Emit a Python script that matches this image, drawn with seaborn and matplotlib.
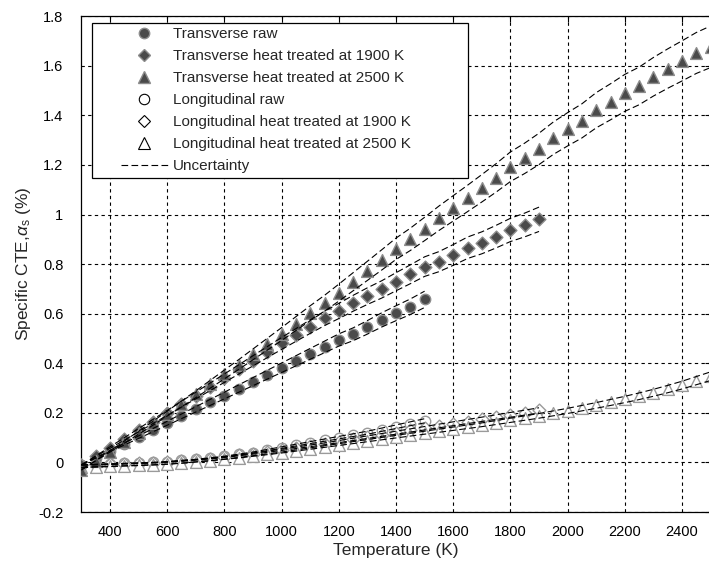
import matplotlib
matplotlib.use("Agg")
import matplotlib.pyplot as plt
import seaborn as sns
import numpy as np
import pandas as pd
from matplotlib.lines import Line2D
from matplotlib.legend_handler import HandlerLine2D

# ---------------- data ----------------
T_raw = list(range(300, 1501, 50))
T_1900 = list(range(300, 1901, 50))
T_2500 = list(range(300, 2501, 50))

trans_raw = [-0.01, 0.018, 0.046, 0.074, 0.102, 0.13, 0.158, 0.186, 0.214, 0.242,
             0.27, 0.298, 0.326, 0.354, 0.382, 0.41, 0.438, 0.466, 0.494, 0.517,
             0.545, 0.575, 0.602, 0.628, 0.658]

trans_1900 = [-0.01, 0.025, 0.06, 0.095, 0.13, 0.165, 0.20, 0.235, 0.27, 0.305,
              0.34, 0.375, 0.41, 0.445, 0.48, 0.514, 0.548, 0.581, 0.611, 0.642,
              0.671, 0.698, 0.729, 0.759, 0.79, 0.81, 0.837, 0.866, 0.886, 0.911,
              0.938, 0.958, 0.981]

trans_2500 = [-0.03, 0.007, 0.044, 0.082, 0.12, 0.158, 0.197, 0.236, 0.275, 0.315,
              0.355, 0.395, 0.436, 0.477, 0.518, 0.56, 0.602, 0.642, 0.685, 0.729,
              0.773, 0.817, 0.862, 0.90, 0.942, 0.985, 1.025, 1.065, 1.106, 1.148,
              1.193, 1.227, 1.265, 1.308, 1.344, 1.378, 1.421, 1.455, 1.491, 1.519,
              1.556, 1.589, 1.62, 1.652, 1.677]

long_raw = [-0.01, -0.008, -0.006, -0.004, -0.002, 0.0, 0.003, 0.008, 0.012, 0.018,
            0.024, 0.032, 0.04, 0.05, 0.06, 0.07, 0.08, 0.09, 0.10, 0.11,
            0.12, 0.132, 0.144, 0.156, 0.168]

long_1900 = [-0.01, -0.009, -0.008, -0.006, -0.004, -0.002, 0.001, 0.005, 0.01, 0.015,
             0.021, 0.028, 0.035, 0.043, 0.051, 0.059, 0.067, 0.075, 0.084, 0.093,
             0.102, 0.111, 0.12, 0.129, 0.138, 0.147, 0.156, 0.165, 0.174, 0.183,
             0.192, 0.201, 0.21]

long_2500 = [-0.02, -0.018, -0.016, -0.014, -0.012, -0.01, -0.007, -0.003, 0.002, 0.007,
             0.013, 0.019, 0.026, 0.033, 0.04, 0.048, 0.056, 0.064, 0.072, 0.08,
             0.088, 0.096, 0.104, 0.112, 0.12, 0.128, 0.136, 0.144, 0.152, 0.161,
             0.17, 0.179, 0.188, 0.198, 0.208, 0.219, 0.23, 0.242, 0.254, 0.267,
             0.281, 0.296, 0.312, 0.33, 0.348]

rel_uncertainty = 0.05   # relative half-width of uncertainty band

labels = ["Transverse raw", "Transverse heat treated at 1900 K",
          "Transverse heat treated at 2500 K", "Longitudinal raw",
          "Longitudinal heat treated at 1900 K", "Longitudinal heat treated at 2500 K",
          "Uncertainty"]

x_ticks = list(range(400, 2401, 200))
y_ticks = [-0.2, 0, 0.2, 0.4, 0.6, 0.8, 1, 1.2, 1.4, 1.6, 1.8]

# ---------------- styling ----------------
sns.set_style("white")
plt.rcParams['font.family'] = ['Liberation Sans', 'DejaVu Sans']
plt.rcParams['mathtext.fontset'] = 'custom'
plt.rcParams['mathtext.rm'] = 'Liberation Sans'
plt.rcParams['mathtext.it'] = 'Liberation Sans:italic'
plt.rcParams['axes.unicode_minus'] = False

fig = plt.figure(figsize=(7.09, 5.65), dpi=100)
ax = fig.add_axes([0.1148, 0.0938, 0.8875, 0.8774])

fill_dark = "#4a4a4a"
edge_dark = "#8c8c8c"
edge_light = "#9a9a9a"

series = [
    (T_raw, trans_raw, "o", fill_dark, edge_dark, 7.5),
    (T_1900, trans_1900, "D", fill_dark, edge_dark, 6.5),
    (T_2500, trans_2500, "^", fill_dark, edge_dark, 8.5),
    (T_raw, long_raw, "o", "white", edge_light, 7.5),
    (T_1900, long_1900, "D", "white", edge_light, 6.5),
    (T_2500, long_2500, "^", "white", edge_light, 8.5),
]

# longitudinal first (underneath), then transverse
order = [3, 4, 5, 0, 1, 2]
for i in order:
    T, v, m, fc, ec, ms = series[i]
    df = pd.DataFrame({"T": T, "v": v})
    sns.scatterplot(data=df, x="T", y="v", marker=m, s=ms ** 2, color=fc,
                    edgecolor=ec, linewidth=1.0, ax=ax, zorder=3 + (1 if i < 3 else 0),
                    legend=False)

# uncertainty bands
for i in order:
    T, v, m, fc, ec, ms = series[i]
    varr = np.array(v)
    for sgn in (+1, -1):
        dfb = pd.DataFrame({"T": T, "b": varr * (1 + sgn * rel_uncertainty)})
        sns.lineplot(data=dfb, x="T", y="b", color="black", linewidth=0.8,
                     ax=ax, zorder=6, legend=False)
for ln in ax.lines:
    ln.set_dashes((6, 3))

ax.set_xlim(300, 2500)
ax.set_ylim(-0.2, 1.8)
ax.set_xticks(x_ticks)
ax.set_yticks(y_ticks)
ax.set_xticklabels([str(t) for t in x_ticks])
ax.set_yticklabels([f"{t:g}" for t in y_ticks])
ax.tick_params(direction="in", top=True, right=True, length=4, width=0.8,
               labelsize=10.5, colors="black")
ax.tick_params(axis="x", pad=9)
ax.tick_params(axis="y", pad=13)
ax.grid(True, color="black", linestyle=(0, (3, 3)), linewidth=0.8)
ax.set_axisbelow(False)
for sp in ax.spines.values():
    sp.set_color("black")
    sp.set_linewidth(0.9)

ax.set_xlabel("Temperature (K)", fontsize=12.5, labelpad=3)
ax.set_ylabel(r"Specific CTE,$\alpha_{\mathrm{s}}$ (%)", fontsize=12.5, labelpad=4)

handles = []
for i in range(6):
    T, v, m, fc, ec, ms = series[i]
    handles.append(Line2D([], [], linestyle="none", marker=m, markersize=ms,
                          markerfacecolor=fc, markeredgecolor=ec if i < 3 else "black",
                          markeredgewidth=1.0 if i < 3 else 0.8))
handles.append(Line2D([], [], color="black", linewidth=0.8, dashes=(6, 3)))
hmap = {h: HandlerLine2D(xpad=1.6) for h in handles}
leg = ax.legend(handles, labels, loc="upper left",
                bbox_to_anchor=(0.0164, 0.0, 0.598, 0.987), mode="expand",
                borderaxespad=0, fontsize=11, frameon=True, fancybox=False,
                framealpha=1, edgecolor="black", handlelength=4.7, borderpad=0.3,
                labelspacing=0.52, handletextpad=0.3, handler_map=hmap)
leg.get_frame().set_linewidth(0.9)
leg.set_zorder(10)

fig.savefig("out.png", dpi=100)
